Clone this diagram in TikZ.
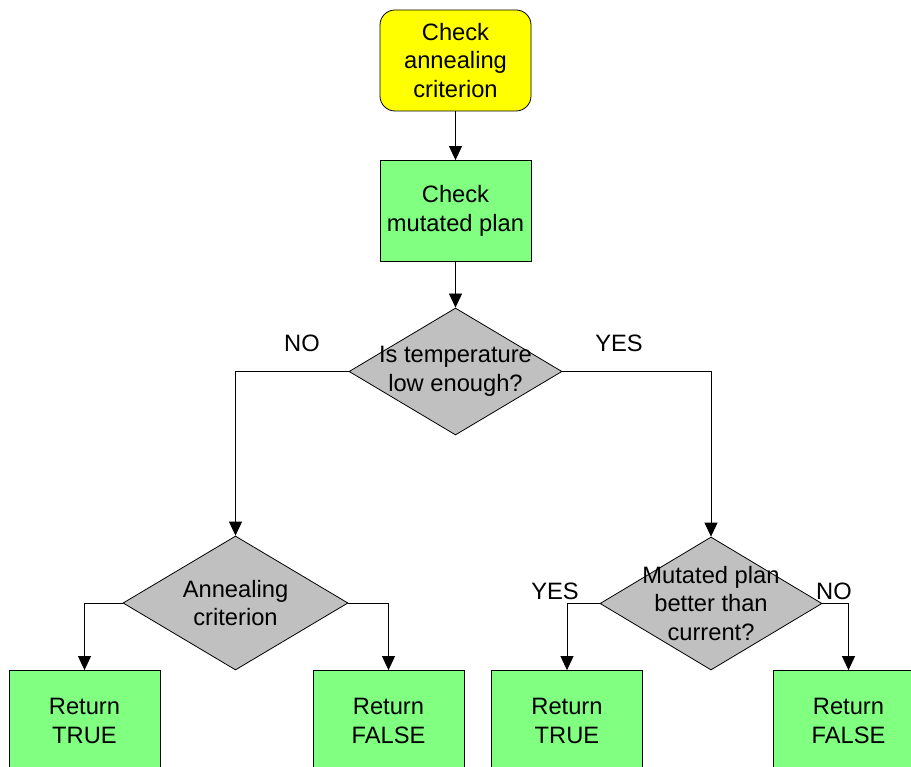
\documentclass[tikz,border=0pt]{standalone}
\usepackage{fontspec}
\setmainfont{Liberation Sans}
\usetikzlibrary{shapes.geometric,arrows.meta}
\definecolor{startyellow}{HTML}{FFFF00}
\definecolor{boxgreen}{HTML}{80FF80}
\definecolor{decgray}{HTML}{C0C0C0}
\begin{document}
\begin{tikzpicture}[x=1pt,y=-1pt,
  font=\fontsize{23.7}{28.5}\selectfont,
  base/.style={draw=black, line width=0.8pt, align=center, inner sep=0pt},
  startbox/.style={base, fill=startyellow, rounded corners=15pt, minimum width=151pt, minimum height=101pt},
  procbox/.style={base, fill=boxgreen, minimum width=151pt, minimum height=101pt},
  decision/.style={base, shape=diamond, fill=decgray},
  conn/.style={line width=0.8pt, -{Triangle[width=13pt,length=14pt]}},
  lbl/.style={inner sep=0pt}
]
\useasboundingbox (0,0) rectangle (911,767);
\clip (0,0) rectangle (911,767);

\node[startbox] (start) at (455.5,60.5) {Check\\annealing\\criterion};
\node[procbox] (check) at (455.5,211) {Check\\mutated plan};
\node[decision, minimum width=213pt, minimum height=127pt] (d1) at (455.5,371.5) {};
\node[lbl, align=center] (d1t) at (d1.center) {Is temperature\\low enough?};

\node[decision, minimum width=225pt, minimum height=134pt] (d2) at (235.5,603) {};
\node[lbl, align=center] (d2t) at (d2.center) {Annealing\\criterion};

\node[decision, minimum width=222pt, minimum height=133pt] (d3) at (711,603.5) {};
\node[lbl, align=center] (d3t) at (d3.center) {Mutated plan\\better than\\current?};

\node[procbox] (t1) at (84.5,721) {Return\\TRUE};
\node[procbox] (f1) at (388.5,721) {Return\\FALSE};
\node[procbox] (t2) at (567,721) {Return\\TRUE};
\node[procbox] (f2) at (848.5,721) {Return\\FALSE};

\node[lbl] (no1) at (302,343) {NO};
\node[lbl] (yes1) at (619,343) {YES};
\node[lbl] (yes2) at (555,591) {YES};
\node[lbl] (no2) at (834,591) {NO};

\draw[conn] (start) -- (check);
\draw[conn] (check) -- (d1);
\draw[conn] (d1.west) -| (d2.north);
\draw[conn] (d1.east) -| (d3.north);
\draw[conn] (d2.west) -| (t1.north);
\draw[conn] (d2.east) -| (f1.north);
\draw[conn] (d3.west) -| (t2.north);
\draw[conn] (d3.east) -| (f2.north);
\end{tikzpicture}
\end{document}
